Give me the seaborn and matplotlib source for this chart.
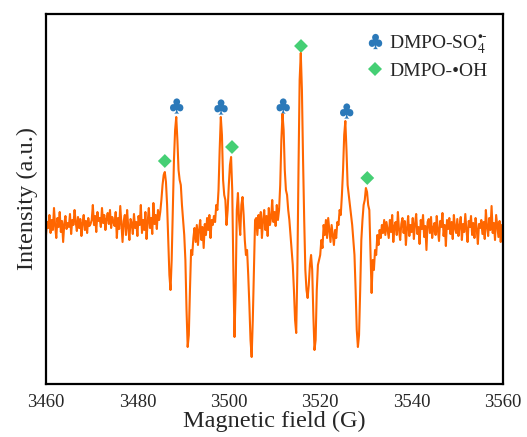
import numpy as np
import pandas as pd
import matplotlib
matplotlib.use("Agg")
import matplotlib.pyplot as plt
from matplotlib.ticker import MultipleLocator
from matplotlib.lines import Line2D
import seaborn as sns

# ---- data (intensity in arbitrary units, 0.25 G steps) ----
field_start, field_stop, field_step = 3460.0, 3560.0, 0.25

int_3460 = [-5, 8, 2, 15, -3, 10, 0, 22, 4, -8, 12, 3, 18, -2, 9, -12, 6, 14, 1, 7]
int_3465 = [3, 16, -4, 10, 5, 20, 8, -1, 13, 2, 11, -6, 7, 15, 0, 9, -3, 12, 4, 6]
int_3470 = [10, 25, 5, 14, -2, 18, 9, 12, 3, 22, 7, 15, 0, 11, 17, 6, 20, 2, 13, 8]
int_3475 = [4, 18, -8, 12, 1, 24, 6, -12, 9, 15, -5, 20, 3, -10, 11, 7, -4, 16, 2, 8]
int_3480 = [-6, 14, 5, 25, -3, 10, 0, 18, -9, 8, 22, 2, 12, -4, 27, 6, 15, 1, 20, 10]
int_3485 = [18, 30, 45, 55, 58, 48, 25, -10, -45, -60, -30, 20, 70, 100, 113, 90, 60, 50, 45, 25]
int_3490 = [10, -5, -30, -80, -117, -105, -60, -20, -25, -8, 2, -12, 5, -15, 0, 10, -10, 3, -18, 6]
int_3495 = [-5, 12, 0, 15, -8, 10, 5, 14, 8, 25, 20, 40, 80, 113, 95, 50, 35, 30, 5, 20]
int_3500 = [45, 65, 73, 40, -40, -107, -60, 20, 37, 10, -5, 25, 33, 15, -10, -25, -20, -45, -75, -110]
int_3505 = [-127, -90, -40, 10, 12, -5, 15, 2, 18, -8, 10, 20, 0, 14, -6, 22, 5, 12, 30, 8]
int_3510 = [18, 4, 25, 10, 20, 45, 90, 116, 100, 60, 40, 35, 20, 10, -5, -20, -35, -60, -90, -103]
int_3515 = [-40, 60, 150, 177, 140, 70, 10, -40, -60, -68, -55, -35, -25, -40, -85, -120, -110, -60, -35, -30]
int_3520 = [-25, -10, -18, 5, -5, 10, -8, 12, 0, -12, 5, -5, -15, 0, -8, 8, 5, 20, 15, 35]
int_3525 = [60, 95, 109, 80, 45, 35, 25, 15, 5, -10, -25, -60, -100, -117, -105, -60, -10, 10, 25, 30]
int_3530 = [42, 38, 25, 20, -20, -63, -30, -40, -20, -25, -5, -15, 0, -8, 5, -3, 10, -5, 8, 0]
int_3535 = [-8, 10, -2, 15, -12, 4, 8, -5, 18, 0, -10, 6, 12, -3, 9, -15, 2, 14, -6, 5]
int_3540 = [-2, 12, -9, 6, 16, -4, 3, -14, 10, 1, 15, -7, 4, -20, 8, 11, -3, 13, -8, 2]
int_3545 = [7, -5, 14, 0, -11, 9, 3, 17, -6, 5, -16, 10, 1, 12, -4, 8, -9, 15, 2, -3]
int_3550 = [11, -6, 4, 13, -10, 6, -2, 16, 0, -12, 9, 3, 14, -5, 7, -8, 12, 1, -14, 6]
int_3555 = [2, 10, -4, 8, -9, 20, 3, -6, 12, 0, 24, -3, 7, -10, 15, 4, -7, 9, -12, 5]
int_3560 = [0]

intensity = (int_3460 + int_3465 + int_3470 + int_3475 + int_3480 + int_3485 + int_3490
             + int_3495 + int_3500 + int_3505 + int_3510 + int_3515 + int_3520 + int_3525
             + int_3530 + int_3535 + int_3540 + int_3545 + int_3550 + int_3555 + int_3560)
field = np.arange(len(intensity)) * field_step + field_start

# peak markers
so4_field = [3488.6, 3498.3, 3511.9, 3525.8]
so4_int = [124, 123, 124, 119]
oh_field = [3486.0, 3500.7, 3515.8, 3530.3]
oh_int = [69, 83, 184, 52]

x_ticks = [3460, 3480, 3500, 3520, 3540, 3560]
so4_label = r"DMPO-SO$_4^{\bullet\text{-}}$"
oh_label = "DMPO-\u2022OH"

# ---- style ----
sns.set_style("white")
plt.rcParams["font.family"] = ["Liberation Serif", "DejaVu Serif"]
plt.rcParams["mathtext.fontset"] = "stix"

fig = plt.figure(figsize=(5.27, 4.37), dpi=100)
ax = fig.add_axes([46 / 527, 53 / 437, 457 / 527, 370 / 437])

df = pd.DataFrame({"field": field, "intensity": intensity})
sns.lineplot(data=df, x="field", y="intensity", ax=ax, color="#FF6600",
             linewidth=1.5, estimator=None, sort=False)

club_color = "#2B79B9"
dia_color = "#45CF74"
sns.scatterplot(x=so4_field, y=so4_int, ax=ax, marker="$\u2663$", s=120,
                color=club_color, edgecolor="none", linewidth=0)
sns.scatterplot(x=oh_field, y=oh_int, ax=ax, marker="D", s=50,
                color=dia_color, edgecolor="none", linewidth=0)

ax.set_xlim(3460, 3560)
ax.set_ylim(-154, 216)
ax.set_xticks(x_ticks)
ax.xaxis.set_minor_locator(MultipleLocator(10))
ax.set_yticks([])
ax.tick_params(axis="x", which="major", direction="in", length=5, width=1.5,
               labelsize=13.5, pad=7)
ax.tick_params(axis="x", which="minor", direction="in", length=3, width=1.5)
for s in ax.spines.values():
    s.set_linewidth(1.6)
    s.set_color("black")

ax.set_xlabel("Magnetic field (G)", fontsize=17.5, labelpad=0)
ax.set_ylabel("Intensity (a.u.)", fontsize=17.5, labelpad=6)

handles = [
    Line2D([], [], linestyle="none", marker="$\u2663$", markersize=11,
           color=club_color, markeredgewidth=0),
    Line2D([], [], linestyle="none", marker="D", markersize=7,
           color=dia_color, markeredgewidth=0),
]
leg = ax.legend(handles, [so4_label, oh_label], loc="upper left",
                bbox_to_anchor=(0.674, 0.985), frameon=False, fontsize=14,
                handlelength=0.8, handletextpad=0.3, labelspacing=0.35,
                borderaxespad=0.3)

fig.savefig("out.png", dpi=100)
